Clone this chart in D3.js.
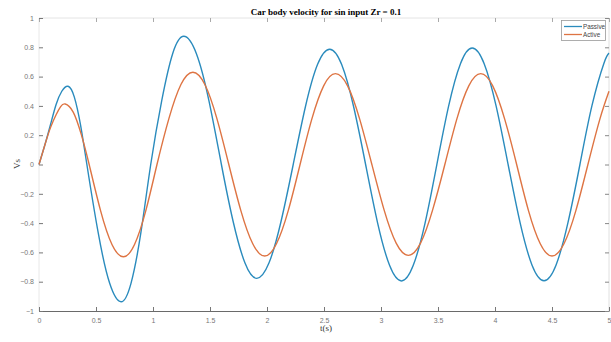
<!DOCTYPE html>
<html>
<head>
<meta charset="utf-8">
<script src="https://cdn.jsdelivr.net/npm/d3@7"></script>
<style>
  body { margin: 0; background: #fff; }
  svg { display: block; }
</style>
</head>
<body>
<svg id="chart" width="611" height="342"></svg>
<script>
// Passive (blue) series: time and velocity
const passiveT = [0, 0.05, 0.1, 0.15, 0.2, 0.255, 0.31, 0.365, 0.42,
  0.52, 0.62, 0.72, 0.807, 0.893, 0.98, 1.077, 1.173, 1.27,
  1.38, 1.49, 1.60, 1.703, 1.807, 1.91, 2.017, 2.123, 2.23,
  2.337, 2.443, 2.55, 2.655, 2.76, 2.865, 2.97, 3.075, 3.18,
  3.283, 3.387, 3.49, 3.593, 3.697, 3.80, 3.905, 4.01, 4.115,
  4.22, 4.325, 4.43, 4.535, 4.64, 4.745, 4.85, 4.955, 5.0];
const passiveV = [0, 0.13, 0.27, 0.41, 0.5, 0.534, 0.46, 0.267, 0,
  -0.469, -0.811, -0.937, -0.811, -0.469, 0, 0.438, 0.758, 0.875,
  0.758, 0.438, 0, -0.389, -0.673, -0.777, -0.673, -0.389, 0,
  0.394, 0.682, 0.787, 0.682, 0.394, 0, -0.398, -0.688, -0.795,
  -0.688, -0.398, 0, 0.398, 0.688, 0.795, 0.688, 0.398, 0,
  -0.397, -0.687, -0.793, -0.687, -0.397, 0, 0.40, 0.69, 0.76];

// Active (orange) series
const activeT = [0, 0.05, 0.1, 0.15, 0.19, 0.23, 0.30, 0.37, 0.44,
  0.54, 0.64, 0.74, 0.838, 0.937, 1.035, 1.14, 1.245, 1.35,
  1.455, 1.56, 1.665, 1.77, 1.875, 1.98, 2.083, 2.187, 2.29,
  2.393, 2.497, 2.60, 2.707, 2.813, 2.92, 3.027, 3.133, 3.24,
  3.347, 3.453, 3.56, 3.665, 3.77, 3.875, 3.98, 4.085, 4.19,
  4.293, 4.397, 4.50, 4.605, 4.71, 4.815, 4.92, 5.0];
const activeV = [0, 0.13, 0.25, 0.34, 0.395, 0.413, 0.358, 0.207, 0,
  -0.315, -0.546, -0.63, -0.546, -0.315, 0, 0.315, 0.546, 0.63,
  0.546, 0.315, 0, -0.313, -0.541, -0.625, -0.541, -0.313, 0,
  0.31, 0.537, 0.62, 0.537, 0.31, 0, -0.31, -0.537, -0.62,
  -0.537, -0.31, 0, 0.31, 0.537, 0.62, 0.537, 0.31, 0,
  -0.313, -0.541, -0.625, -0.541, -0.313, 0, 0.31, 0.50];

const xTicks = [0, 0.5, 1, 1.5, 2, 2.5, 3, 3.5, 4, 4.5, 5];
const yTicks = [-1, -0.8, -0.6, -0.4, -0.2, 0, 0.2, 0.4, 0.6, 0.8, 1];

const svg = d3.select("#chart");
const plotLeft = 39, plotRight = 609, plotTop = 18, plotBottom = 311;

const x = d3.scaleLinear().domain([0, 5]).range([plotLeft, plotRight]);
const y = d3.scaleLinear().domain([-1, 1]).range([plotBottom, plotTop]);

const blue = "#2a8bbd";
const orange = "#de7443";

// box lines
svg.append("line").attr("x1", plotLeft).attr("x2", plotRight).attr("y1", plotTop).attr("y2", plotTop)
  .attr("stroke", "#e4e4e4").attr("stroke-width", 1);
svg.append("line").attr("x1", plotLeft).attr("x2", plotLeft).attr("y1", plotTop).attr("y2", plotBottom)
  .attr("stroke", "#e8e8e8").attr("stroke-width", 1);
svg.append("line").attr("x1", plotRight).attr("x2", plotRight).attr("y1", plotTop).attr("y2", plotBottom)
  .attr("stroke", "#e0e0e0").attr("stroke-width", 1);

// bottom axis
const xAxis = svg.append("g").attr("transform", `translate(0,${plotBottom})`)
  .call(d3.axisBottom(x).tickValues(xTicks).tickSizeInner(-4).tickSizeOuter(0)
    .tickFormat(d3.format("")).tickPadding(7));
xAxis.select(".domain").attr("stroke", "#6a6a6a").attr("stroke-width", 1.2);
xAxis.selectAll(".tick line").attr("stroke", "#777");
xAxis.selectAll("text").attr("fill", "#777").attr("font-size", 7)
  .attr("font-family", "Liberation Sans, Arial, sans-serif");

// top ticks
const xTop = svg.append("g").attr("transform", `translate(0,${plotTop})`)
  .call(d3.axisTop(x).tickValues(xTicks).tickSizeInner(-4).tickSizeOuter(0).tickFormat(""));
xTop.select(".domain").remove();
xTop.selectAll(".tick line").attr("stroke", "#aaa");

// left axis
const yAxis = svg.append("g").attr("transform", `translate(${plotLeft},0)`)
  .call(d3.axisLeft(y).tickValues(yTicks).tickSizeInner(-4).tickSizeOuter(0)
    .tickFormat(d3.format("")).tickPadding(5));
yAxis.select(".domain").remove();
yAxis.selectAll(".tick line").attr("stroke", "#777");
yAxis.selectAll("text").attr("fill", "#777").attr("font-size", 7)
  .attr("font-family", "Liberation Sans, Arial, sans-serif");

// right ticks
const yRight = svg.append("g").attr("transform", `translate(${plotRight},0)`)
  .call(d3.axisRight(y).tickValues(yTicks).tickSizeInner(-4).tickSizeOuter(0).tickFormat(""));
yRight.select(".domain").remove();
yRight.selectAll(".tick line").attr("stroke", "#888");

// lines
const line = d3.line()
  .x((d) => x(d[0]))
  .y((d) => y(d[1]))
  .curve(d3.curveNatural);

svg.append("path")
  .datum(passiveT.map((t, i) => [t, passiveV[i]]))
  .attr("d", line)
  .attr("fill", "none")
  .attr("stroke", blue)
  .attr("stroke-width", 1.4);

svg.append("path")
  .datum(activeT.map((t, i) => [t, activeV[i]]))
  .attr("d", line)
  .attr("fill", "none")
  .attr("stroke", orange)
  .attr("stroke-width", 1.4);

// title and labels
svg.append("text")
  .attr("x", 326).attr("y", 15)
  .attr("text-anchor", "middle")
  .attr("font-family", "Liberation Serif, Times New Roman, serif")
  .attr("font-weight", "bold")
  .attr("font-size", 9)
  .text("Car body velocity for sin input Zr = 0.1");

svg.append("text")
  .attr("transform", "translate(20,164) rotate(-90)")
  .attr("text-anchor", "middle")
  .attr("font-family", "Liberation Serif, Times New Roman, serif")
  .attr("font-size", 9)
  .attr("fill", "#444")
  .text("Vs");

svg.append("text")
  .attr("x", 326).attr("y", 331)
  .attr("text-anchor", "middle")
  .attr("font-family", "Liberation Serif, Times New Roman, serif")
  .attr("font-size", 9)
  .attr("fill", "#333")
  .text("t(s)");

// legend
const legend = svg.append("g");
legend.append("rect")
  .attr("x", 561.5).attr("y", 20.5).attr("width", 44).attr("height", 20)
  .attr("fill", "#fff").attr("stroke", "#999").attr("stroke-width", 0.8);
const items = [["Passive", blue], ["Active", orange]];
items.forEach(([name, color], i) => {
  const ly = 26.5 + i * 8;
  legend.append("line")
    .attr("x1", 564).attr("x2", 582).attr("y1", ly).attr("y2", ly)
    .attr("stroke", color).attr("stroke-width", 1.3);
  legend.append("text")
    .attr("x", 583).attr("y", ly + 2.3)
    .attr("font-family", "Liberation Sans, Arial, sans-serif")
    .attr("font-size", 6.3)
    .attr("fill", "#444")
    .text(name);
});
</script>
</body>
</html>
